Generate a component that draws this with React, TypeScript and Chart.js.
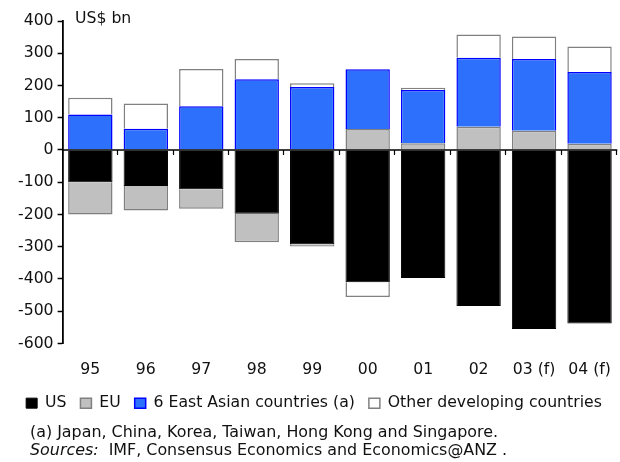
import React, { useEffect, useRef } from "react";
import { Chart, registerables } from "chart.js";

Chart.register(...registerables);

const categories = ["95", "96", "97", "98", "99", "00", "01", "02", "03 (f)", "04 (f)"];
const usValues = [-100, -112, -122, -198, -292, -410, -397, -484, -555, -538];
const euValues = [-100, -76, -60, -88, -7, 65, 21, 72, 60, 19];
const eastAsiaValues = [110, 66, 136, 219, 195, 185, 165, 214, 222, 223];
const otherValues = [52, 78, 115, 63, 12, -46, 7, 72, 70, 79];
const yTicks = [400, 300, 200, 100, 0, -100, -200, -300, -400, -500, -600];

const FONT = "'DejaVu Sans', Verdana, sans-serif";
const FS = 15.7;
const LEGEND_LIFT = 7;

const zeroTicksPlugin = {
  id: "zeroTicks",
  afterLayout(chart: any) {
    const lg = chart.legend;
    if (lg) {
      lg.top -= LEGEND_LIFT;
      lg.bottom -= LEGEND_LIFT;
    }
  },
  afterDatasetsDraw(chart: any) {
    const { ctx, scales } = chart;
    const x = scales.x;
    const y = scales.y;
    const y0 = y.getPixelForValue(0);
    ctx.save();
    ctx.strokeStyle = "#000";
    ctx.lineWidth = 1.6;
    ctx.beginPath();
    ctx.moveTo(x.left, y0);
    ctx.lineTo(x.right, y0);
    ctx.stroke();
    ctx.lineWidth = 1.2;
    for (let i = 1; i <= categories.length; i++) {
      const px = Math.round(x.left + ((x.right - x.left) * i) / categories.length) - 0.5;
      ctx.beginPath();
      ctx.moveTo(px, y0);
      ctx.lineTo(px, y0 + 5);
      ctx.stroke();
    }
    ctx.restore();
  },
};

export default function App() {
  const ref = useRef<HTMLCanvasElement>(null);
  useEffect(() => {
    const canvas = ref.current;
    if (!canvas) return;
    const chart = new Chart(canvas, {
      type: "bar",
      data: {
        labels: categories,
        datasets: [
          { label: "US", data: usValues, backgroundColor: "#000000", borderColor: "#000000", borderWidth: 1 },
          { label: "EU", data: euValues, backgroundColor: "#c0c0c0", borderColor: "#808080", borderWidth: 1.5 },
          { label: "6 East Asian countries (a)", data: eastAsiaValues, backgroundColor: "#2d70fb", borderColor: "#0000ff", borderWidth: 1.5 },
          { label: "Other developing countries", data: otherValues, backgroundColor: "#ffffff", borderColor: "#808080", borderWidth: 1.5 },
        ],
      },
      options: {
        responsive: false,
        animation: false,
        maintainAspectRatio: false,
        layout: { padding: { left: 10, right: 2, top: 21, bottom: 0 } },
        datasets: { bar: { categoryPercentage: 1, barPercentage: 0.8 } },
        scales: {
          x: {
            stacked: true,
            grid: { display: false, drawOnChartArea: false },
            border: { display: false },
            ticks: { color: "#111", font: { family: FONT, size: FS }, padding: 9, maxRotation: 0 },
          },
          y: {
            stacked: true,
            min: -600,
            max: 400,
            afterBuildTicks: (axis: any) => {
              axis.ticks = yTicks.map((v) => ({ value: v }));
            },
            afterFit: (axis: any) => {
              axis.width += 4;
            },
            grid: {
              drawOnChartArea: false,
              tickLength: 5,
              tickColor: "#000",
              tickWidth: 1.5,
            },
            border: { display: true, color: "#000", width: 1.8 },
            ticks: { color: "#111", font: { family: FONT, size: FS }, padding: 4 },
          },
        },
        plugins: {
          tooltip: { enabled: false },
          legend: {
            position: "bottom",
            labels: {
              boxWidth: 11,
              boxHeight: 10,
              color: "#111",
              font: { family: FONT, size: FS },
              padding: 14,
            },
          },
        },
      },
      plugins: [zeroTicksPlugin],
    });
    return () => chart.destroy();
  }, []);

  return (
    <div style={{ position: "absolute", left: 0, top: 0, width: 620, height: 462, background: "#fff", fontFamily: FONT }}>
      <canvas ref={ref} width={620} height={428} style={{ position: "absolute", left: 0, top: 0 }} />
      <div style={{ position: "absolute", left: 75, top: 8, fontSize: FS, lineHeight: "20px", color: "#111" }}>US$ bn</div>
      <div style={{ position: "absolute", left: 30, top: 423, fontSize: 15.9, color: "#111", lineHeight: "18px" }}>
        <div>(a) Japan, China, Korea, Taiwan, Hong Kong and Singapore.</div>
        <div>
          <i>Sources:</i>&nbsp; IMF, Consensus Economics and Economics@ANZ .
        </div>
      </div>
    </div>
  );
}
